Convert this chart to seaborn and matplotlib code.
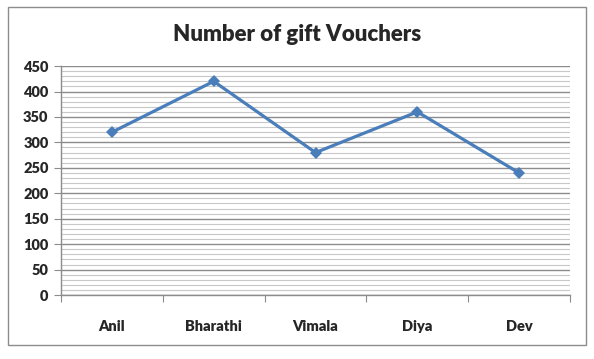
import numpy as np
import pandas as pd
import seaborn as sns
import matplotlib.pyplot as plt
from matplotlib.patches import Rectangle
from matplotlib.ticker import MultipleLocator

names = ["Anil", "Bharathi", "Vimala", "Diya", "Dev"]
vouchers = [320, 420, 280, 360, 240]

df = pd.DataFrame({"name": names, "vouchers": vouchers})
df["pos"] = np.arange(len(names))

sns.set_style("white")
plt.rcParams['font.family'] = ['Lato', 'DejaVu Sans']

fig = plt.figure(figsize=(5.94, 3.59), dpi=100)
ax = fig.add_axes([0.1027, 0.178, 0.857, 0.638])

sns.lineplot(data=df, x="pos", y="vouchers", ax=ax, color="#4A7EBB",
             linewidth=2.3, marker="D", markersize=6, markeredgewidth=0)

ax.set_xlim(-0.5, len(names) - 0.5)
ax.set_ylim(0, 450)
ax.yaxis.set_major_locator(MultipleLocator(50))
ax.yaxis.set_minor_locator(MultipleLocator(10))
ax.grid(which="major", axis="y", color="#8c8c8c", linewidth=1)
ax.grid(which="minor", axis="y", color="#c8c8c8", linewidth=0.8)
ax.set_axisbelow(True)

# category boundaries as ticks, labels centred
ax.set_xticks(np.arange(-0.5, len(names), 1.0))
ax.set_xticklabels([])
ax.set_xticks(np.arange(len(names)), minor=True)
ax.set_xticklabels(names, minor=True, fontsize=10.5, fontweight="heavy")
ax.tick_params(axis="x", which="major", length=5, color="#8c8c8c", direction="out", bottom=True)
ax.tick_params(axis="x", which="minor", length=0, pad=18)
ax.tick_params(axis="y", which="major", length=5, color="#8c8c8c", direction="out", left=True,
               labelsize=10.5, pad=4)
ax.tick_params(axis="y", which="minor", length=0)
for lbl in ax.get_yticklabels():
    lbl.set_fontweight("heavy")

for s in ["top", "right"]:
    ax.spines[s].set_visible(False)
for s in ["left", "bottom"]:
    ax.spines[s].set_color("#8c8c8c")
    ax.spines[s].set_linewidth(1)

ax.set_xlabel("")
ax.set_ylabel("")

fig.text(0.5, 0.905, "Number of gift Vouchers", ha="center", va="center",
         fontsize=16, fontweight="heavy")

fig.patches.append(Rectangle((0.0135, 0.04), 0.973, 0.94, transform=fig.transFigure,
                             fill=False, edgecolor="#8c8c8c", linewidth=1))

fig.savefig("out.png", dpi=100)
